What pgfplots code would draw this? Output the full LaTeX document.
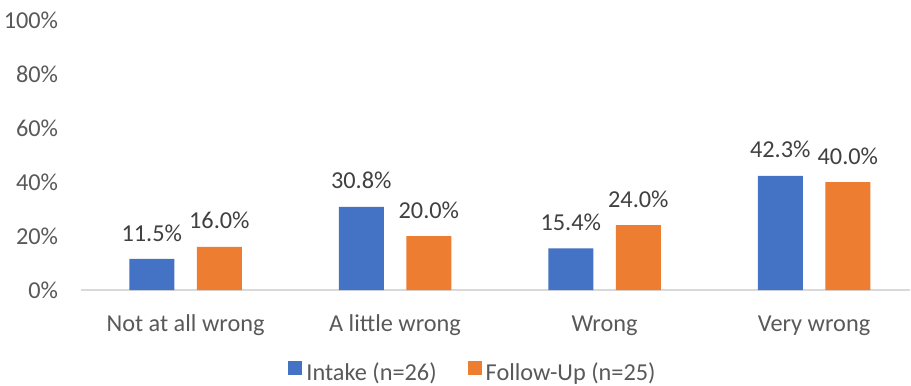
\documentclass[border=0pt]{standalone}
\usepackage{pgfplots}
\pgfplotsset{compat=1.18}
\usepackage{fontspec}
\setmainfont{Carlito}
\definecolor{cblue}{HTML}{4472C4}
\definecolor{corange}{HTML}{ED7D31}
\definecolor{tgray}{HTML}{595959}
\definecolor{lgray}{HTML}{404040}
\definecolor{axgray}{HTML}{D9D9D9}
\newcommand{\fs}{\fontsize{24.3bp}{28bp}\selectfont}
\begin{document}
\begin{tikzpicture}[x=1bp,y=1bp]
\begin{axis}[
  at={(80.8bp,95bp)}, anchor=south west,
  width=829.2bp, height=270bp, scale only axis,
  xmin=-0.5, xmax=3.458, ymin=0, ymax=100,
  ybar=22.6bp, bar width=45bp,
  axis x line*=bottom, axis y line*=left,
  x axis line style={draw=axgray, line width=1.5bp, -},
  y axis line style={draw=none},
  major tick length=0pt,
  xtick={0,1,2,3},
  xticklabels={Not at all wrong, A little wrong, Wrong, Very wrong},
  ytick={0,20,40,60,80,100},
  yticklabel={\pgfmathprintnumber{\tick}\%},
  /pgf/number format/assume math mode=true,
  xticklabel style={anchor=base, inner sep=0pt, yshift=-41.5bp, font=\fs, text=tgray},
  yticklabel style={anchor=east, inner sep=0pt, xshift=-22.5bp, font=\fs, text=tgray},
  nodes near coords={\pgfmathprintnumber[fixed,fixed zerofill,precision=1]{\pgfplotspointmeta}\%},
  nodes near coords style={inner sep=0pt, yshift=17.5bp, font=\fs, text=lgray},
  clip=false,
  legend columns=2,
  legend style={at={(0.4718,-0.262)}, anchor=north, draw=none, fill=none, inner sep=0pt,
    font=\fs, text=tgray, column sep=4bp,
    /tikz/every even column/.append style={column sep=31bp},
    nodes={inner sep=0pt}},
  legend image code/.code={\fill[#1] (0bp,-3bp) rectangle (14bp,11bp);},
]
\addplot[fill=cblue, draw=none] coordinates {(0,11.5) (1,30.8) (2,15.4) (3,42.3)};
\addplot[fill=corange, draw=none] coordinates {(0,16.0) (1,20.0) (2,24.0) (3,40.0)};
\legend{Intake (n=26), Follow-Up (n=25)}
\end{axis}
\pgfresetboundingbox
\path[use as bounding box] (0,0) rectangle (911,385);
\end{tikzpicture}
\end{document}
